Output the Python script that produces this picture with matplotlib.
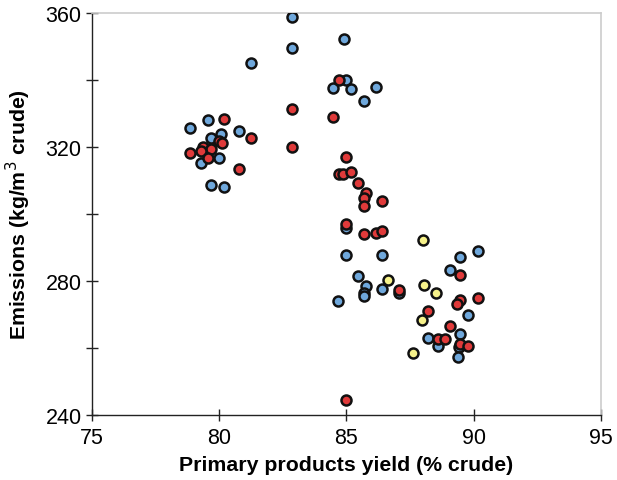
import matplotlib
matplotlib.use("Agg")
import matplotlib.pyplot as plt

plt.rcParams['font.family'] = ['Liberation Sans', 'DejaVu Sans']

# blue series
blue_x = [82.87, 82.87, 81.26, 84.89, 84.48, 84.99, 85.18, 86.17, 85.69,
          78.86, 79.57, 80.79, 79.68, 80.08, 79.98, 79.27, 79.68, 80.17,
          84.99, 84.99, 86.38, 90.16, 89.47, 89.07, 85.46, 85.78, 85.68, 85.68,
          86.38, 87.07, 84.68, 89.77, 89.47, 88.20, 88.60, 89.42, 89.37]
blue_y = [358.7, 349.6, 345.1, 352.1, 337.5, 339.9, 337.2, 338.0, 333.8,
          325.6, 328.1, 324.8, 322.6, 323.9, 316.7, 315.1, 308.7, 308.0,
          295.7, 287.8, 287.8, 289.1, 287.1, 283.4, 281.4, 278.4, 276.3, 275.4,
          277.6, 276.3, 274.0, 270.0, 264.1, 263.0, 260.5, 260.4, 257.2]

# red series
red_x = [84.69, 82.87, 84.48, 82.87,
         80.17, 81.26, 79.98, 80.11, 79.37, 79.68, 79.27, 78.86, 79.57, 80.79,
         84.99, 84.69, 84.88, 85.18, 85.46, 85.78, 85.68, 86.38, 85.68,
         84.99, 85.68, 86.17, 86.38, 87.07, 89.47, 89.47, 89.35, 90.17,
         88.19, 89.07, 88.60, 88.89, 89.47, 89.79, 84.99]
red_y = [339.9, 331.4, 329.0, 320.0,
         328.3, 322.7, 321.9, 321.1, 320.1, 319.4, 318.7, 318.3, 316.7, 313.3,
         317.0, 312.0, 312.0, 312.5, 309.3, 306.3, 304.8, 303.9, 302.3,
         297.0, 294.1, 294.4, 294.9, 277.4, 281.7, 274.3, 273.2, 275.0,
         271.2, 266.6, 262.8, 262.8, 261.2, 260.5, 244.6]

# yellow series
yellow_x = [88.01, 86.64, 88.06, 88.51, 87.97, 87.63]
yellow_y = [292.2, 280.2, 278.7, 276.3, 268.5, 258.4]

fig = plt.figure(figsize=(6.17, 4.81), dpi=100)
ax = fig.add_axes([0.149, 0.135, 0.825, 0.836])

style = dict(s=52, edgecolors='#111111', linewidths=1.8, zorder=3)
ax.scatter(blue_x, blue_y, c='#6fa8dc', **style)
ax.scatter(red_x, red_y, c='#e03a3a', **style)
ax.scatter(yellow_x, yellow_y, c='#f7f28a', **style)

ax.set_xlim(75, 95)
ax.set_ylim(240, 360)
ax.set_xticks([75, 80, 85, 90, 95])
ax.set_yticks([240, 260, 280, 300, 320, 340, 360])
ax.set_yticklabels(['240', '', '280', '', '320', '', '360'])

for side in ['top', 'right']:
    ax.spines[side].set_color('#cccccc')
    ax.spines[side].set_linewidth(1.2)
for side in ['left', 'bottom']:
    ax.spines[side].set_color('#222222')
    ax.spines[side].set_linewidth(1.0)

ax.tick_params(direction='inout', length=9, width=1.0, color='#222222',
               labelsize=15.5)
ax.tick_params(axis='x', pad=4)
ax.tick_params(axis='y', pad=3)

ax.set_xlabel('Primary products yield (% crude)', fontsize=15.3,
              fontweight='bold', labelpad=5)
ax.set_ylabel('Emissions (kg/m$^3$ crude)', fontsize=15.3,
              fontweight='bold', labelpad=9)

fig.savefig('out.png', dpi=100)
